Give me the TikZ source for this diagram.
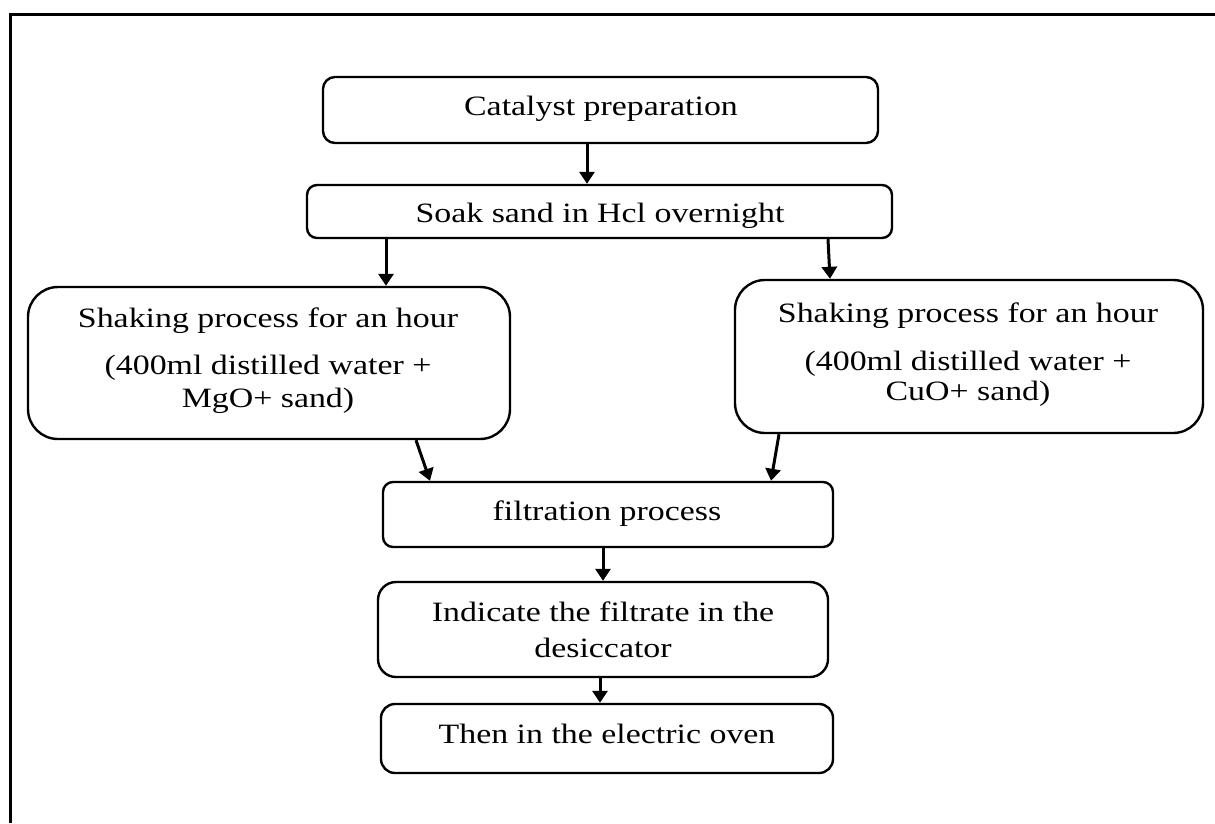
\documentclass[tikz,border=0pt]{standalone}
\usepackage{fontspec}
\setmainfont{Liberation Serif}[FakeStretch=1.21]
\usetikzlibrary{arrows.meta}
\begin{document}
\begin{tikzpicture}[x=1pt,y=-1pt,
  box/.style={draw=black, line width=2.4pt, rectangle, inner sep=0pt},
  txt/.style={anchor=base, inner sep=0pt, font=\fontsize{28}{34}\selectfont},
  arr/.style={line width=3pt, -{Triangle[length=12pt,width=15pt]}},
  frame/.style={line width=3pt}]
\useasboundingbox (0,0) rectangle (1215,823);
% frame
\coordinate (fr1) at (10,14);
\coordinate (fr2) at (1215,14);
\coordinate (fr3) at (10,823);
\draw[frame] (fr3) -- (fr1) -- (fr2);
% boxes
\node[box, rounded corners=12pt, minimum width=555pt, minimum height=66pt] (cat) at (600.5,110) {};
\node[box, rounded corners=10pt, minimum width=585pt, minimum height=53pt] (soak) at (599.5,211.5) {};
\node[box, rounded corners=30pt, minimum width=482pt, minimum height=152pt] (lbox) at (269,363) {};
\node[box, rounded corners=30pt, minimum width=468pt, minimum height=153pt] (rbox) at (969,356.5) {};
\node[box, rounded corners=10pt, minimum width=450pt, minimum height=65pt] (filt) at (608,514.5) {};
\node[box, rounded corners=18pt, minimum width=450pt, minimum height=95pt] (ind) at (603,629.5) {};
\node[box, rounded corners=14pt, minimum width=452pt, minimum height=69pt] (then) at (607,738.5) {};
% texts
\node[txt] (catT) at (601,115) {Catalyst preparation};
\node[txt] (soakT) at (600,222) {Soak sand in Hcl overnight};
\node[txt] (lboxA) at (268,327) {Shaking process for an hour};
\node[txt] (lboxB) at (268,374) {(400ml distilled water +};
\node[txt] (lboxC) at (268,407) {MgO+ sand)};
\node[txt] (rboxA) at (968,322) {Shaking process for an hour};
\node[txt] (rboxB) at (968,370) {(400ml distilled water +};
\node[txt] (rboxC) at (968,400) {CuO+ sand)};
\node[txt] (filtT) at (607,520) {filtration process};
\node[txt] (indA) at (603,621) {Indicate the filtrate in the};
\node[txt] (indB) at (603,657) {desiccator};
\node[txt] (thenT) at (607,743) {Then in the electric oven};
% connectors
\draw[arr] ([xshift=-13.5pt]cat.south) -- ([xshift=-12.5pt]soak.north);
\draw[arr] ([xshift=-213.5pt]soak.south) -- ([xshift=117pt]lbox.north);
\draw[arr] ([xshift=228.5pt]soak.south) -- ([xshift=-139pt]rbox.north);
\draw[arr] ([xshift=147pt]lbox.south) -- ([xshift=-178pt]filt.north);
\draw[arr] ([xshift=-190pt]rbox.south) -- ([xshift=163pt]filt.north);
\draw[arr] ([xshift=-5pt]filt.south) -- (ind.north);
\draw[arr] ([xshift=-3pt]ind.south) -- ([xshift=-7pt]then.north);
\end{tikzpicture}
\end{document}
